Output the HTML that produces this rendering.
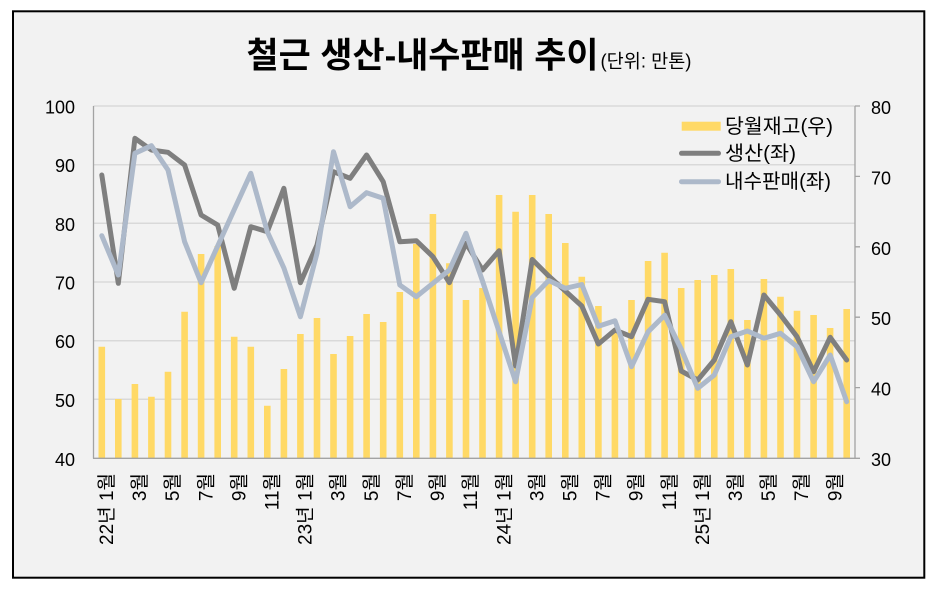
<!DOCTYPE html>
<html>
<head>
<meta charset="utf-8">
<style>
html,body{margin:0;padding:0;background:#fff}
svg{display:block}
text{font-family:"Liberation Sans","Noto Sans CJK KR",sans-serif;fill:#000}
.xl{font-size:19px;text-anchor:end}
</style>
</head>
<body>
<svg width="940" height="590" viewBox="0 0 940 590" xmlns="http://www.w3.org/2000/svg">
<rect x="0" y="0" width="940" height="590" fill="#fff"/>
<rect x="13" y="11.3" width="911.3" height="566.4" fill="#f2f2f2" stroke="#000" stroke-width="2"/>
<text x="246.5" y="67.5" font-size="35" font-weight="bold" textLength="352" lengthAdjust="spacingAndGlyphs">철근 생산-내수판매 추이</text>
<text x="600.5" y="67.5" font-size="19" textLength="91" lengthAdjust="spacingAndGlyphs">(단위: 만톤)</text>
<path d="M93.5 106H855M93.5 164.7H855M93.5 223.3H855M93.5 282H855M93.5 340.7H855M93.5 399.3H855" stroke="#d9d9d9" stroke-width="1.5" fill="none"/>
<path fill="#ffd966" d="M98.5 458V346.7h6.6V458zM115 458V399h6.6V458zM131.6 458V384h6.6V458zM148.1 458V396.7h6.6V458zM164.7 458V371.7h6.6V458zM181.3 458V311.7h6.6V458zM197.8 458V254h6.6V458zM214.4 458V246h6.6V458zM230.9 458V336.7h6.6V458zM247.5 458V346.7h6.6V458zM264 458V405.7h6.6V458zM280.6 458V369h6.6V458zM297.1 458V334h6.6V458zM313.7 458V318h6.6V458zM330.2 458V354h6.6V458zM346.8 458V336h6.6V458zM363.3 458V314h6.6V458zM379.9 458V322h6.6V458zM396.5 458V292h6.6V458zM413 458V244h6.6V458zM429.6 458V214h6.6V458zM446.1 458V263.3h6.6V458zM462.7 458V300h6.6V458zM479.2 458V288h6.6V458zM495.8 458V195h6.6V458zM512.3 458V211.7h6.6V458zM528.9 458V195h6.6V458zM545.4 458V214h6.6V458zM562 458V243h6.6V458zM578.5 458V276.7h6.6V458zM595.1 458V306h6.6V458zM611.6 458V331h6.6V458zM628.2 458V300h6.6V458zM644.8 458V261h6.6V458zM661.3 458V252.7h6.6V458zM677.9 458V288h6.6V458zM694.4 458V280h6.6V458zM711 458V275h6.6V458zM727.5 458V269h6.6V458zM744.1 458V320h6.6V458zM760.6 458V279h6.6V458zM777.2 458V296.7h6.6V458zM793.7 458V310.7h6.6V458zM810.3 458V315h6.6V458zM826.8 458V328h6.6V458zM843.4 458V309h6.6V458z"/>
<path d="M93.5 106V458.5M93 458.3H855.5M855 106V458.5M855 106h5M855 176.4h5M855 246.8h5M855 317.2h5M855 387.6h5M855 458.3h5" stroke="#a3a3a3" stroke-width="1.3" fill="none"/>
<polyline fill="none" stroke="#7f7f7f" stroke-width="5" stroke-linejoin="round" stroke-linecap="round" points="101.8,175 118.3,283.3 134.9,138.3 151.4,150 168,152.3 184.6,165 201.1,215 217.7,225 234.2,288.3 250.8,226.7 267.3,231.7 283.9,188.3 300.4,282.7 317,245 333.5,171.7 350.1,178.3 366.6,155 383.2,181.7 399.8,241.7 416.3,240.7 432.9,256.7 449.4,282.7 466,243.3 482.5,270 499.1,250.7 515.6,366 532.2,259.5 548.7,276 565.3,291 581.8,306 598.4,344 615,330 631.5,336.7 648.1,299.3 664.6,301.7 681.2,371 697.7,380 714.3,360 730.8,321.7 747.4,365 763.9,295 780.5,315 797,336.7 813.6,371.7 830.2,337.3 846.7,360"/>
<polyline fill="none" stroke="#adb9ca" stroke-width="5" stroke-linejoin="round" stroke-linecap="round" points="101.8,235.7 118.3,275 134.9,153.3 151.4,145.7 168,170 184.6,241.7 201.1,282.7 217.7,246 234.2,209.7 250.8,173.3 267.3,231.7 283.9,268 300.4,316.7 317,253.3 333.5,151.7 350.1,206.7 366.6,192.7 383.2,198.3 399.8,285 416.3,296.7 432.9,283.3 449.4,270 466,233.3 482.5,281 499.1,331.7 515.6,381.7 532.2,297.5 548.7,280.5 565.3,288.3 581.8,284.5 598.4,326.3 615,320.7 631.5,366.7 648.1,331.7 664.6,315.3 681.2,349 697.7,388.3 714.3,375 730.8,336.7 747.4,331 763.9,338.3 780.5,333.3 797,346.7 813.6,381.7 830.2,355 846.7,401.7"/>
<g font-size="18" text-anchor="end">
<text x="75" y="113.5">100</text><text x="75" y="172.2">90</text><text x="75" y="230.8">80</text><text x="75" y="289.5">70</text><text x="75" y="348.2">60</text><text x="75" y="406.8">50</text><text x="75" y="465.8">40</text>
</g>
<g font-size="18">
<text x="871" y="114">80</text><text x="871" y="184.4">70</text><text x="871" y="254.8">60</text><text x="871" y="325.2">50</text><text x="871" y="395.6">40</text><text x="871" y="466">30</text>
</g>
<g class="xl">
<text transform="translate(113,473) rotate(-90)">22년 1월</text>
<text transform="translate(146.1,473) rotate(-90)">3월</text>
<text transform="translate(179.2,473) rotate(-90)">5월</text>
<text transform="translate(212.3,473) rotate(-90)">7월</text>
<text transform="translate(245.4,473) rotate(-90)">9월</text>
<text transform="translate(278.5,473) rotate(-90)">11월</text>
<text transform="translate(311.6,473) rotate(-90)">23년 1월</text>
<text transform="translate(344.7,473) rotate(-90)">3월</text>
<text transform="translate(377.8,473) rotate(-90)">5월</text>
<text transform="translate(411,473) rotate(-90)">7월</text>
<text transform="translate(444.1,473) rotate(-90)">9월</text>
<text transform="translate(477.2,473) rotate(-90)">11월</text>
<text transform="translate(510.3,473) rotate(-90)">24년 1월</text>
<text transform="translate(543.4,473) rotate(-90)">3월</text>
<text transform="translate(576.5,473) rotate(-90)">5월</text>
<text transform="translate(609.6,473) rotate(-90)">7월</text>
<text transform="translate(642.7,473) rotate(-90)">9월</text>
<text transform="translate(675.8,473) rotate(-90)">11월</text>
<text transform="translate(708.9,473) rotate(-90)">25년 1월</text>
<text transform="translate(742,473) rotate(-90)">3월</text>
<text transform="translate(775.1,473) rotate(-90)">5월</text>
<text transform="translate(808.2,473) rotate(-90)">7월</text>
<text transform="translate(841.4,473) rotate(-90)">9월</text>
</g>
<rect x="681.7" y="121.7" width="39" height="9" fill="#ffd966"/>
<path d="M681.5 153.3H718.5" stroke="#7f7f7f" stroke-width="5" stroke-linecap="round"/>
<path d="M681.5 181.7H718.5" stroke="#adb9ca" stroke-width="5" stroke-linecap="round"/>
<g font-size="20">
<text x="725" y="133" textLength="108" lengthAdjust="spacingAndGlyphs">당월재고(우)</text>
<text x="725" y="160" textLength="71" lengthAdjust="spacingAndGlyphs">생산(좌)</text>
<text x="725" y="188" textLength="106" lengthAdjust="spacingAndGlyphs">내수판매(좌)</text>
</g>
</svg>
</body>
</html>
